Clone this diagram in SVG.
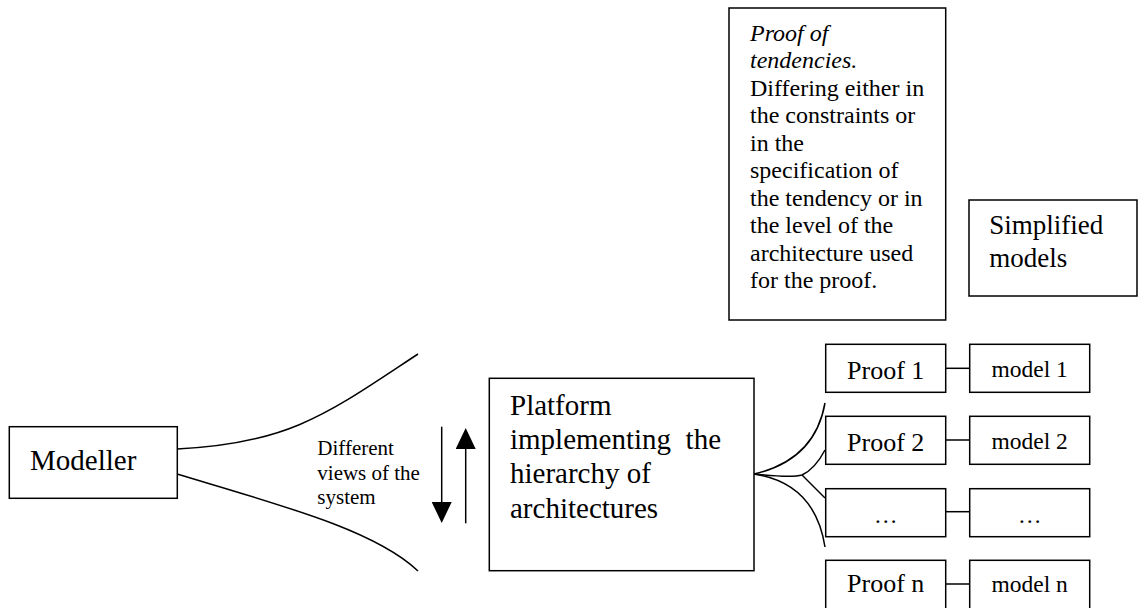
<svg xmlns="http://www.w3.org/2000/svg" width="1138" height="608" viewBox="0 0 1138 608">
  <style>
    .box { fill: #ffffff; stroke: #000000; stroke-width: 1.5; }
    .wire { fill: none; stroke: #000000; stroke-width: 1.5; }
    text { font-family: "Liberation Serif", "Times New Roman", serif; fill: #000000; }
    .big { font-size: 29px; }
    .note { font-size: 24px; }
    .small { font-size: 21px; }
    .proof { font-size: 26px; text-anchor: middle; }
    .model { font-size: 23.5px; text-anchor: middle; }
  </style>
  <defs>
    <marker id="head" viewBox="0 0 21 20" refX="0" refY="10" markerWidth="21" markerHeight="20" markerUnits="userSpaceOnUse" orient="auto">
      <path d="M0,0 L21,10 L0,20 Z" fill="#000000"/>
    </marker>
  </defs>

  <rect width="1138" height="608" fill="#ffffff"/>

  <!-- connectors -->
  <g id="connectors">
    <!-- views fanning out of the modeller -->
    <path class="wire" d="M177,449 C290,444 330,412 418,354"/>
    <path class="wire" d="M177,474 C280,505 375,530 418,571"/>
    <!-- two-way exchange -->
    <line class="wire" x1="441.7" y1="426.7" x2="441.7" y2="502" marker-end="url(#head)"/>
    <line class="wire" x1="465.7" y1="523.3" x2="465.7" y2="449" marker-end="url(#head)"/>
    <!-- fan from the platform to the proofs -->
    <path class="wire" d="M754,474 Q815,460 825,403"/>
    <path class="wire" d="M754,474 Q792,478 802,475 Q815,469 825,450"/>
    <path class="wire" d="M802,475 L825,498"/>
    <path class="wire" d="M754,474 Q815,483 825,547"/>
    <!-- proof to model links -->
    <line class="wire" x1="945.7" y1="368.3" x2="969.7" y2="368.3"/>
    <line class="wire" x1="945.7" y1="440" x2="969.7" y2="440"/>
    <line class="wire" x1="945.7" y1="511.7" x2="969.7" y2="511.7"/>
    <line class="wire" x1="945.7" y1="584" x2="969.7" y2="584"/>
  </g>

  <g id="views-label">
    <text class="small" x="317.3" y="455">Different</text>
    <text class="small" x="317.3" y="479.5">views of the</text>
    <text class="small" x="317.3" y="503.5">system</text>
  </g>

  <g id="modeller">
    <rect class="box" x="9.3" y="426.7" width="168" height="71.6"/>
    <text class="big" x="30" y="470">Modeller</text>
  </g>

  <g id="platform">
    <rect class="box" x="489.3" y="378.3" width="264.7" height="192.4"/>
    <text class="big" x="510" y="414.5">Platform</text>
    <text class="big" x="510" y="448.5" xml:space="preserve">implementing  the</text>
    <text class="big" x="510" y="483">hierarchy of</text>
    <text class="big" x="510" y="517.5">architectures</text>
  </g>

  <g id="tendencies">
    <rect class="box" x="729" y="8" width="216.7" height="312"/>
    <text class="note" x="750" y="40.5" font-style="italic">Proof of</text>
    <text class="note" x="750" y="68" font-style="italic">tendencies.</text>
    <text class="note" x="750" y="95.5">Differing either in</text>
    <text class="note" x="750" y="123">the constraints or</text>
    <text class="note" x="750" y="150.5">in the</text>
    <text class="note" x="750" y="178">specification of</text>
    <text class="note" x="750" y="205.5">the tendency or in</text>
    <text class="note" x="750" y="233">the level of the</text>
    <text class="note" x="750" y="260.5">architecture used</text>
    <text class="note" x="750" y="288">for the proof.</text>
  </g>

  <g id="simplified-models">
    <rect class="box" x="969" y="200" width="168" height="96"/>
    <text x="989.3" y="234" font-size="27">Simplified</text>
    <text x="989.3" y="266.5" font-size="27">models</text>
  </g>

  <g id="proof-1">
    <rect class="box" x="825.7" y="344.3" width="120" height="48"/>
    <text class="proof" x="885.7" y="379">Proof 1</text>
  </g>
  <g id="model-1">
    <rect class="box" x="969.7" y="344.3" width="120" height="48"/>
    <text class="model" x="1029.7" y="377.3">model 1</text>
  </g>

  <g id="proof-2">
    <rect class="box" x="825.7" y="416.3" width="120" height="48"/>
    <text class="proof" x="885.7" y="450.7">Proof 2</text>
  </g>
  <g id="model-2">
    <rect class="box" x="969.7" y="416.3" width="120" height="48"/>
    <text class="model" x="1029.7" y="449">model 2</text>
  </g>

  <g id="proof-more">
    <rect class="box" x="825.7" y="488.7" width="120" height="48"/>
    <text class="model" x="885.7" y="522.7">…</text>
  </g>
  <g id="model-more">
    <rect class="box" x="969.7" y="488.7" width="120" height="48"/>
    <text class="model" x="1029.7" y="522.7">…</text>
  </g>

  <g id="proof-n">
    <rect class="box" x="825.7" y="560.3" width="120" height="50"/>
    <text class="proof" x="885.7" y="591.7">Proof n</text>
  </g>
  <g id="model-n">
    <rect class="box" x="969.7" y="560.3" width="120" height="50"/>
    <text class="model" x="1029.7" y="592.3">model n</text>
  </g>
</svg>
